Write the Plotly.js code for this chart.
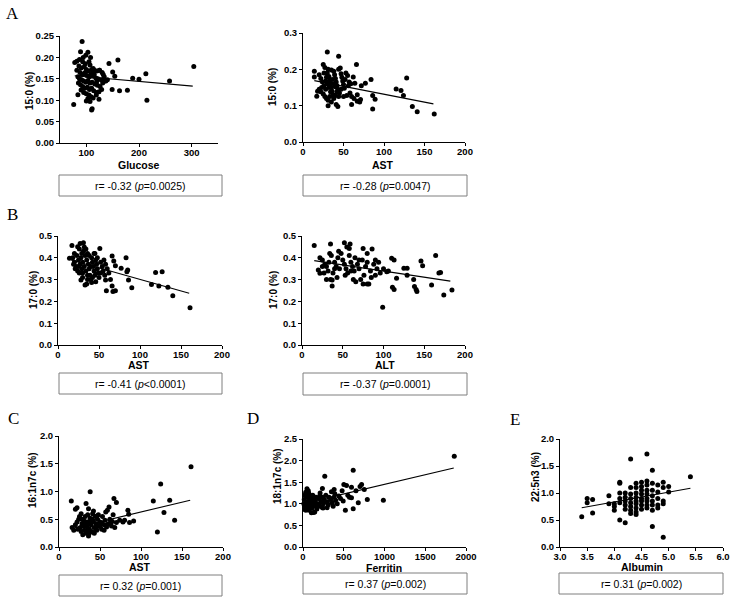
<!DOCTYPE html>
<html>
<head>
<meta charset="utf-8">
<script src="https://cdn.plot.ly/plotly-3.0.1.min.js"></script>
<style>
  html, body { margin: 0; padding: 0; background: #ffffff; }
  #chart { width: 732px; height: 605px; }
</style>
</head>
<body>
<div id="chart"></div>
<script>
// ---------- data ----------

// A (left): glucose vs 15:0
const glucose = [92,89,103,78,82,94,98,108,105,86,90,96,100,104,110,112,115,120,125,130,88,92,97,101,106,109,113,118,122,128,132,137,84,87,91,95,99,103,107,111,116,121,126,131,135,85,89,93,97,102,106,110,114,119,124,129,90,95,100,105,109,113,119,124,84,76,103,111,110,100,107,125,113,97,143,160,150,154,149,163,178,188,200,213,215,258,304,82,87,93,99,107,115,120,140,134];
const c15_glu = [0.237,0.213,0.212,0.188,0.191,0.200,0.185,0.200,0.190,0.180,0.175,0.178,0.172,0.168,0.172,0.165,0.170,0.168,0.170,0.165,0.165,0.160,0.162,0.158,0.155,0.160,0.156,0.152,0.150,0.148,0.160,0.145,0.155,0.150,0.148,0.145,0.142,0.146,0.140,0.142,0.138,0.135,0.132,0.140,0.145,0.140,0.136,0.132,0.128,0.130,0.125,0.128,0.122,0.118,0.120,0.125,0.124,0.118,0.115,0.112,0.108,0.105,0.112,0.102,0.113,0.090,0.104,0.080,0.077,0.098,0.097,0.170,0.174,0.164,0.186,0.194,0.166,0.156,0.125,0.122,0.123,0.151,0.149,0.162,0.100,0.145,0.179,0.170,0.195,0.190,0.205,0.182,0.160,0.145,0.148,0.155];
const fitX_A1 = [78, 302];
const fitY_A1 = [0.157, 0.133];

// A (right): AST vs 15:0
const astA = [30,44,66,14,25,27,128,84,77,115,121,124,135,141,162,86,89,86,71,67,60,67,58,31,41,43,17,14,62,64,56,52,44,46,20,22,24,26,28,30,32,33,34,35,36,37,38,39,40,41,42,43,45,47,48,49,50,51,53,55,57,59,20,22,25,27,29,31,33,35,38,40,42,44,47,50,54,18,23,28,30,32,34,36,38,40,29,31,35,26,60,63,70,72];
const c15_ast = [0.248,0.236,0.213,0.195,0.213,0.205,0.176,0.172,0.162,0.146,0.142,0.128,0.098,0.083,0.077,0.091,0.118,0.128,0.117,0.112,0.103,0.130,0.135,0.100,0.103,0.098,0.126,0.179,0.179,0.162,0.155,0.172,0.200,0.204,0.185,0.175,0.165,0.155,0.145,0.190,0.180,0.170,0.160,0.150,0.140,0.130,0.195,0.185,0.175,0.165,0.155,0.145,0.135,0.188,0.178,0.168,0.158,0.148,0.190,0.183,0.165,0.160,0.145,0.138,0.132,0.125,0.120,0.115,0.125,0.110,0.120,0.128,0.138,0.125,0.145,0.125,0.128,0.140,0.150,0.168,0.160,0.150,0.138,0.172,0.160,0.152,0.178,0.200,0.198,0.190,0.125,0.120,0.110,0.155];
const fitX_A2 = [14, 161];
const fitY_A2 = [0.169, 0.105];

// B (left): AST vs 17:0
const astB = [17,27,31,24,51,45,14,66,83,68,70,77,85,84,86,90,66,67,70,59,58,28,33,35,41,119,127,114,123,134,140,161,18,20,22,24,26,20,23,25,27,29,30,31,33,35,37,38,39,40,32,34,36,41,42,43,44,45,46,47,48,49,50,52,54,55,57,60,62,64,28,30,32,34,36,26,29,21,19,38,40,44,48,56,58,36,30,25,42,46,52];
const c17_ast = [0.456,0.466,0.469,0.451,0.443,0.420,0.398,0.408,0.400,0.385,0.364,0.352,0.344,0.336,0.298,0.263,0.271,0.245,0.249,0.249,0.298,0.298,0.275,0.280,0.287,0.333,0.336,0.277,0.271,0.265,0.226,0.171,0.40,0.38,0.36,0.34,0.33,0.42,0.41,0.39,0.37,0.35,0.33,0.43,0.41,0.39,0.37,0.35,0.32,0.30,0.45,0.44,0.42,0.40,0.38,0.36,0.34,0.32,0.39,0.37,0.35,0.33,0.31,0.38,0.36,0.34,0.32,0.35,0.33,0.30,0.40,0.38,0.36,0.34,0.32,0.44,0.42,0.35,0.37,0.41,0.36,0.42,0.40,0.39,0.37,0.30,0.31,0.36,0.31,0.29,0.33];
const fitX_B1 = [16, 160];
const fitY_B1 = [0.390, 0.237];

// B (right): ALT vs 17:0
const alt = [15,35,52,59,58,75,80,110,113,164,146,148,184,174,170,168,159,137,138,140,141,129,129,125,116,113,111,99,104,37,30,37,20,22,22,25,28,30,32,34,36,38,40,42,44,46,48,50,52,54,56,58,60,62,64,66,68,70,72,74,76,78,80,82,84,86,88,90,92,94,96,100,106,45,55,65,85,75,27,33,43,53,63,70,80,90,60,40,35,25];
const c17_alt = [0.456,0.463,0.469,0.463,0.443,0.443,0.420,0.398,0.390,0.410,0.385,0.364,0.252,0.229,0.333,0.330,0.275,0.300,0.268,0.255,0.245,0.320,0.352,0.352,0.306,0.255,0.265,0.173,0.336,0.271,0.300,0.298,0.344,0.329,0.40,0.39,0.37,0.36,0.34,0.42,0.41,0.33,0.38,0.36,0.40,0.35,0.42,0.39,0.37,0.35,0.33,0.41,0.38,0.36,0.34,0.29,0.37,0.35,0.30,0.39,0.32,0.36,0.38,0.28,0.34,0.44,0.37,0.39,0.35,0.38,0.33,0.35,0.34,0.43,0.45,0.40,0.31,0.28,0.33,0.38,0.31,0.32,0.30,0.39,0.28,0.32,0.34,0.35,0.30,0.36];
const fitX_B2 = [15, 182];
const fitY_B2 = [0.387, 0.293];

// C: AST vs 16:1n7c
const astC = [161,124,135,115,128,141,120,38,15,33,67,70,61,59,57,84,85,86,91,68,70,74,22,20,36,16,18,20,22,24,26,27,28,29,30,31,32,33,34,35,36,37,38,39,40,41,42,43,44,45,46,47,48,50,52,53,55,56,58,60,62,64,65,66,25,27,30,33,35,37,40,42,45,48,50,23,28,31,34,39,43,46,52,55,63,78,80];
const c161 = [1.446,1.133,0.843,0.831,0.620,0.482,0.270,0.994,0.830,0.783,0.873,0.800,0.720,0.660,0.630,0.660,0.590,0.440,0.470,0.350,0.440,0.480,0.705,0.680,0.690,0.35,0.30,0.40,0.45,0.50,0.35,0.28,0.42,0.22,0.48,0.30,0.55,0.25,0.38,0.45,0.20,0.33,0.52,0.40,0.28,0.60,0.47,0.35,0.55,0.42,0.30,0.50,0.38,0.45,0.32,0.55,0.40,0.48,0.36,0.42,0.50,0.38,0.46,0.58,0.55,0.60,0.38,0.45,0.58,0.25,0.50,0.65,0.33,0.58,0.37,0.32,0.50,0.40,0.30,0.46,0.25,0.56,0.43,0.30,0.44,0.45,0.48];
const fitX_C = [15, 160];
const fitY_C = [0.331, 0.843];

// D: ferritin vs 18:1n7c
const ferritin = [1856,616,267,986,789,752,719,595,534,501,493,616,678,595,382,349,238,49,33,390,296,370,20,103,144,10,15,25,30,40,45,55,60,70,75,80,90,95,100,110,115,120,130,135,140,150,160,170,180,190,200,210,220,230,240,250,260,280,300,310,320,340,360,380,400,420,440,460,550,570,520,480,650,700,20,35,65,85,125,165,205,245,270];
const c181 = [2.10,1.777,1.638,1.085,1.100,1.331,1.446,1.385,1.423,1.446,1.062,0.885,1.023,1.138,1.331,1.277,1.354,1.346,1.269,1.230,0.908,0.946,0.869,0.790,0.808,1.00,1.10,0.95,1.20,1.05,0.90,1.15,1.00,1.25,0.85,1.10,0.95,1.05,1.15,0.90,1.00,1.20,0.80,1.10,0.95,1.05,1.15,0.88,1.00,1.12,0.95,1.25,1.05,0.92,1.15,1.00,1.10,1.20,1.05,0.98,1.15,1.10,1.02,1.15,1.08,1.00,1.18,1.12,1.20,1.15,0.85,1.30,1.30,1.40,1.20,0.85,1.30,1.20,1.05,0.97,1.18,0.90,1.05];
const fitX_D = [10, 1850];
const fitY_D = [1.01, 1.83];

// E: albumin vs 22:5n3
const albumin = [3.4,3.5,3.5,3.6,3.6,3.9,3.9,4.0,4.0,4.0,4.1,4.1,4.1,4.1,4.1,4.1,4.2,4.2,4.2,4.2,4.2,4.2,4.3,4.3,4.3,4.3,4.3,4.3,4.3,4.3,4.4,4.4,4.4,4.4,4.4,4.4,4.4,4.4,4.4,4.5,4.5,4.5,4.5,4.5,4.5,4.5,4.5,4.6,4.6,4.6,4.6,4.6,4.6,4.6,4.6,4.6,4.7,4.7,4.7,4.7,4.7,4.7,4.7,4.7,4.8,4.8,4.8,4.8,4.8,4.9,4.9,4.9,4.9,4.9,5.0,5.0,5.4];
const c225 = [0.56,0.90,0.82,0.88,0.63,0.95,0.80,0.80,0.75,0.68,1.20,1.18,1.00,0.90,0.82,0.50,1.00,0.92,0.85,0.78,0.70,0.45,1.63,1.10,0.98,0.90,0.82,0.75,0.68,0.62,1.18,1.10,1.00,0.92,0.85,0.80,0.72,0.65,0.60,1.20,1.12,1.05,0.98,0.90,0.85,0.78,0.70,1.72,1.22,1.15,1.05,0.98,0.90,0.85,0.78,0.72,1.42,1.18,1.05,0.95,0.85,0.78,0.68,0.38,1.15,1.02,0.90,0.78,0.72,1.20,1.10,0.85,0.80,0.18,1.12,1.02,1.30];
const fitX_E = [3.4, 5.4];
const fitY_E = [0.727, 1.087];

// ---------- layout helpers ----------
const W = 732, H = 605;
const fx = p => p / W;
const fy = p => 1 - p / H;

const tickFont = { family: "Liberation Sans, Arial, sans-serif", size: 9.5, color: "#000", weight: 700 };
const xTitleFont = { family: "Liberation Sans, Arial, sans-serif", size: 10.5, color: "#000", weight: 700 };
const yTitleFont = { family: "Liberation Sans, Arial, sans-serif", size: 10, color: "#000", weight: 700 };

const panels = [
  { x: glucose, y: c15_glu, fx: fitX_A1, fy: fitY_A1, box: [60, 218, 36, 143], xr: [50, 350], yr: [0, 0.25],
    xt: [100, 200, 300], yt: [0, 0.05, 0.10, 0.15, 0.20, 0.25], xf: "d", yf: ".2f",
    xtitle: "Glucose", ytitle: "15:0 (%)", xtPos: [139, 165], ytPos: [29, 91],
    r: "r= -0.32 (<i>p</i>=0.0025)", rbox: [59, 222, 175, 196] },
  { x: astA, y: c15_ast, fx: fitX_A2, fy: fitY_A2, box: [303, 465, 33, 142], xr: [0, 200], yr: [0, 0.3],
    xt: [0, 50, 100, 150, 200], yt: [0, 0.1, 0.2, 0.3], xf: "d", yf: ".1f",
    xtitle: "AST", ytitle: "15:0 (%)", xtPos: [383, 165], ytPos: [273, 87],
    r: "r= -0.28 (<i>p</i>=0.0047)", rbox: [303, 467, 175, 196] },
  { x: astB, y: c17_ast, fx: fitX_B1, fy: fitY_B1, box: [58, 222, 236, 345], xr: [0, 200], yr: [0, 0.5],
    xt: [0, 50, 100, 150, 200], yt: [0, 0.1, 0.2, 0.3, 0.4, 0.5], xf: "d", yf: ".1f",
    xtitle: "AST", ytitle: "17:0 (%)", xtPos: [139, 365], ytPos: [33, 290],
    r: "r= -0.41 (<i>p</i>&lt;0.0001)", rbox: [59, 222, 373, 394] },
  { x: alt, y: c17_alt, fx: fitX_B2, fy: fitY_B2, box: [302, 465, 236, 345], xr: [0, 200], yr: [0, 0.5],
    xt: [0, 50, 100, 150, 200], yt: [0, 0.1, 0.2, 0.3, 0.4, 0.5], xf: "d", yf: ".1f",
    xtitle: "ALT", ytitle: "17:0 (%)", xtPos: [385, 365], ytPos: [273, 290],
    r: "r= -0.37 (<i>p</i>=0.0001)", rbox: [303, 467, 373, 395] },
  { x: astC, y: c161, fx: fitX_C, fy: fitY_C, box: [59, 223, 436, 547], xr: [0, 200], yr: [0, 2],
    xt: [0, 50, 100, 150, 200], yt: [0, 0.5, 1.0, 1.5, 2.0], xf: "d", yf: ".1f",
    xtitle: "AST", ytitle: "16:1n7c (%)", xtPos: [140, 567], ytPos: [32, 480],
    r: "r= 0.32 (<i>p</i>=0.001)", rbox: [59, 222, 575, 596] },
  { x: ferritin, y: c181, fx: fitX_D, fy: fitY_D, box: [303, 466, 439, 547], xr: [0, 2000], yr: [0, 2.5],
    xt: [0, 500, 1000, 1500, 2000], yt: [0, 0.5, 1.0, 1.5, 2.0, 2.5], xf: "d", yf: ".1f",
    xtitle: "Ferritin", ytitle: "18:1n7c (%)", xtPos: [384, 567.5], ytPos: [277, 476],
    r: "r= 0.37 (<i>p</i>=0.002)", rbox: [303, 467, 573, 594] },
  { x: albumin, y: c225, fx: fitX_E, fy: fitY_E, box: [560, 723, 439, 547], xr: [3, 6], yr: [0, 2],
    xt: [3, 3.5, 4, 4.5, 5, 5.5, 6], yt: [0, 0.5, 1.0, 1.5, 2.0], xf: ".1f", yf: ".1f",
    xtitle: "Albumin", ytitle: "22:5n3 (%)", xtPos: [642, 567], ytPos: [536, 477],
    r: "r= 0.31 (<i>p</i>=0.002)", rbox: [559, 723, 573, 594] }
];

const letters = [["A", 12, 13], ["B", 12, 215], ["C", 13, 418], ["D", 253, 418], ["E", 515, 419]];

const traces = [];
const layout = {
  width: W, height: H,
  margin: { l: 0, r: 0, t: 0, b: 0 },
  paper_bgcolor: "#ffffff",
  plot_bgcolor: "rgba(0,0,0,0)",
  showlegend: false,
  annotations: [],
  shapes: []
};

function baseAxis(dom, range, ticks, fmt, anchor, standoff) {
  return {
    domain: dom, range: range, anchor: anchor,
    tickvals: ticks, tickformat: fmt,
    showgrid: false, zeroline: false,
    showline: true, linecolor: "#000", linewidth: 1,
    ticks: "outside", ticklen: 3, tickwidth: 1, tickcolor: "#000",
    ticklabelstandoff: standoff,
    tickfont: tickFont, fixedrange: true
  };
}

panels.forEach((p, i) => {
  const n = i === 0 ? "" : String(i + 1);
  const xa = "x" + n, ya = "y" + n;

  traces.push({
    x: p.x, y: p.y, xaxis: xa, yaxis: ya,
    type: "scatter", mode: "markers", cliponaxis: false,
    marker: { color: "#000", size: 5 }
  });
  traces.push({
    x: p.fx, y: p.fy, xaxis: xa, yaxis: ya,
    type: "scatter", mode: "lines",
    line: { color: "#000", width: 1.1 }
  });

  const [x0, x1, y0, y1] = p.box;
  layout["xaxis" + n] = baseAxis([fx(x0), fx(x1)], p.xr, p.xt, p.xf, ya, -2);
  layout["yaxis" + n] = baseAxis([fy(y1), fy(y0)], p.yr, p.yt, p.yf, xa, 0);

  layout.annotations.push({
    xref: "paper", yref: "paper", x: fx(p.xtPos[0]), y: fy(p.xtPos[1]),
    text: p.xtitle, showarrow: false, font: xTitleFont, xanchor: "center", yanchor: "middle"
  });
  layout.annotations.push({
    xref: "paper", yref: "paper", x: fx(p.ytPos[0]), y: fy(p.ytPos[1]),
    text: p.ytitle, showarrow: false, font: yTitleFont, textangle: -90, xanchor: "center", yanchor: "middle"
  });

  const [bx0, bx1, by0, by1] = p.rbox;
  layout.shapes.push({
    type: "rect", xref: "paper", yref: "paper",
    x0: fx(bx0), x1: fx(bx1), y0: fy(by1), y1: fy(by0),
    line: { color: "#7f7f7f", width: 1 }
  });
  layout.annotations.push({
    xref: "paper", yref: "paper", x: fx((bx0 + bx1) / 2), y: fy((by0 + by1) / 2),
    text: p.r, showarrow: false, xanchor: "center", yanchor: "middle",
    font: { family: "Liberation Sans, Arial, sans-serif", size: 10.5, color: "#000" }
  });
});

letters.forEach(([t, x, y]) => {
  layout.annotations.push({
    xref: "paper", yref: "paper", x: fx(x), y: fy(y), text: t, showarrow: false,
    xanchor: "center", yanchor: "middle",
    font: { family: "Liberation Serif, Times New Roman, serif", size: 17, color: "#000" }
  });
});

Plotly.newPlot("chart", traces, layout, { displayModeBar: false, staticPlot: true });
</script>
</body>
</html>
